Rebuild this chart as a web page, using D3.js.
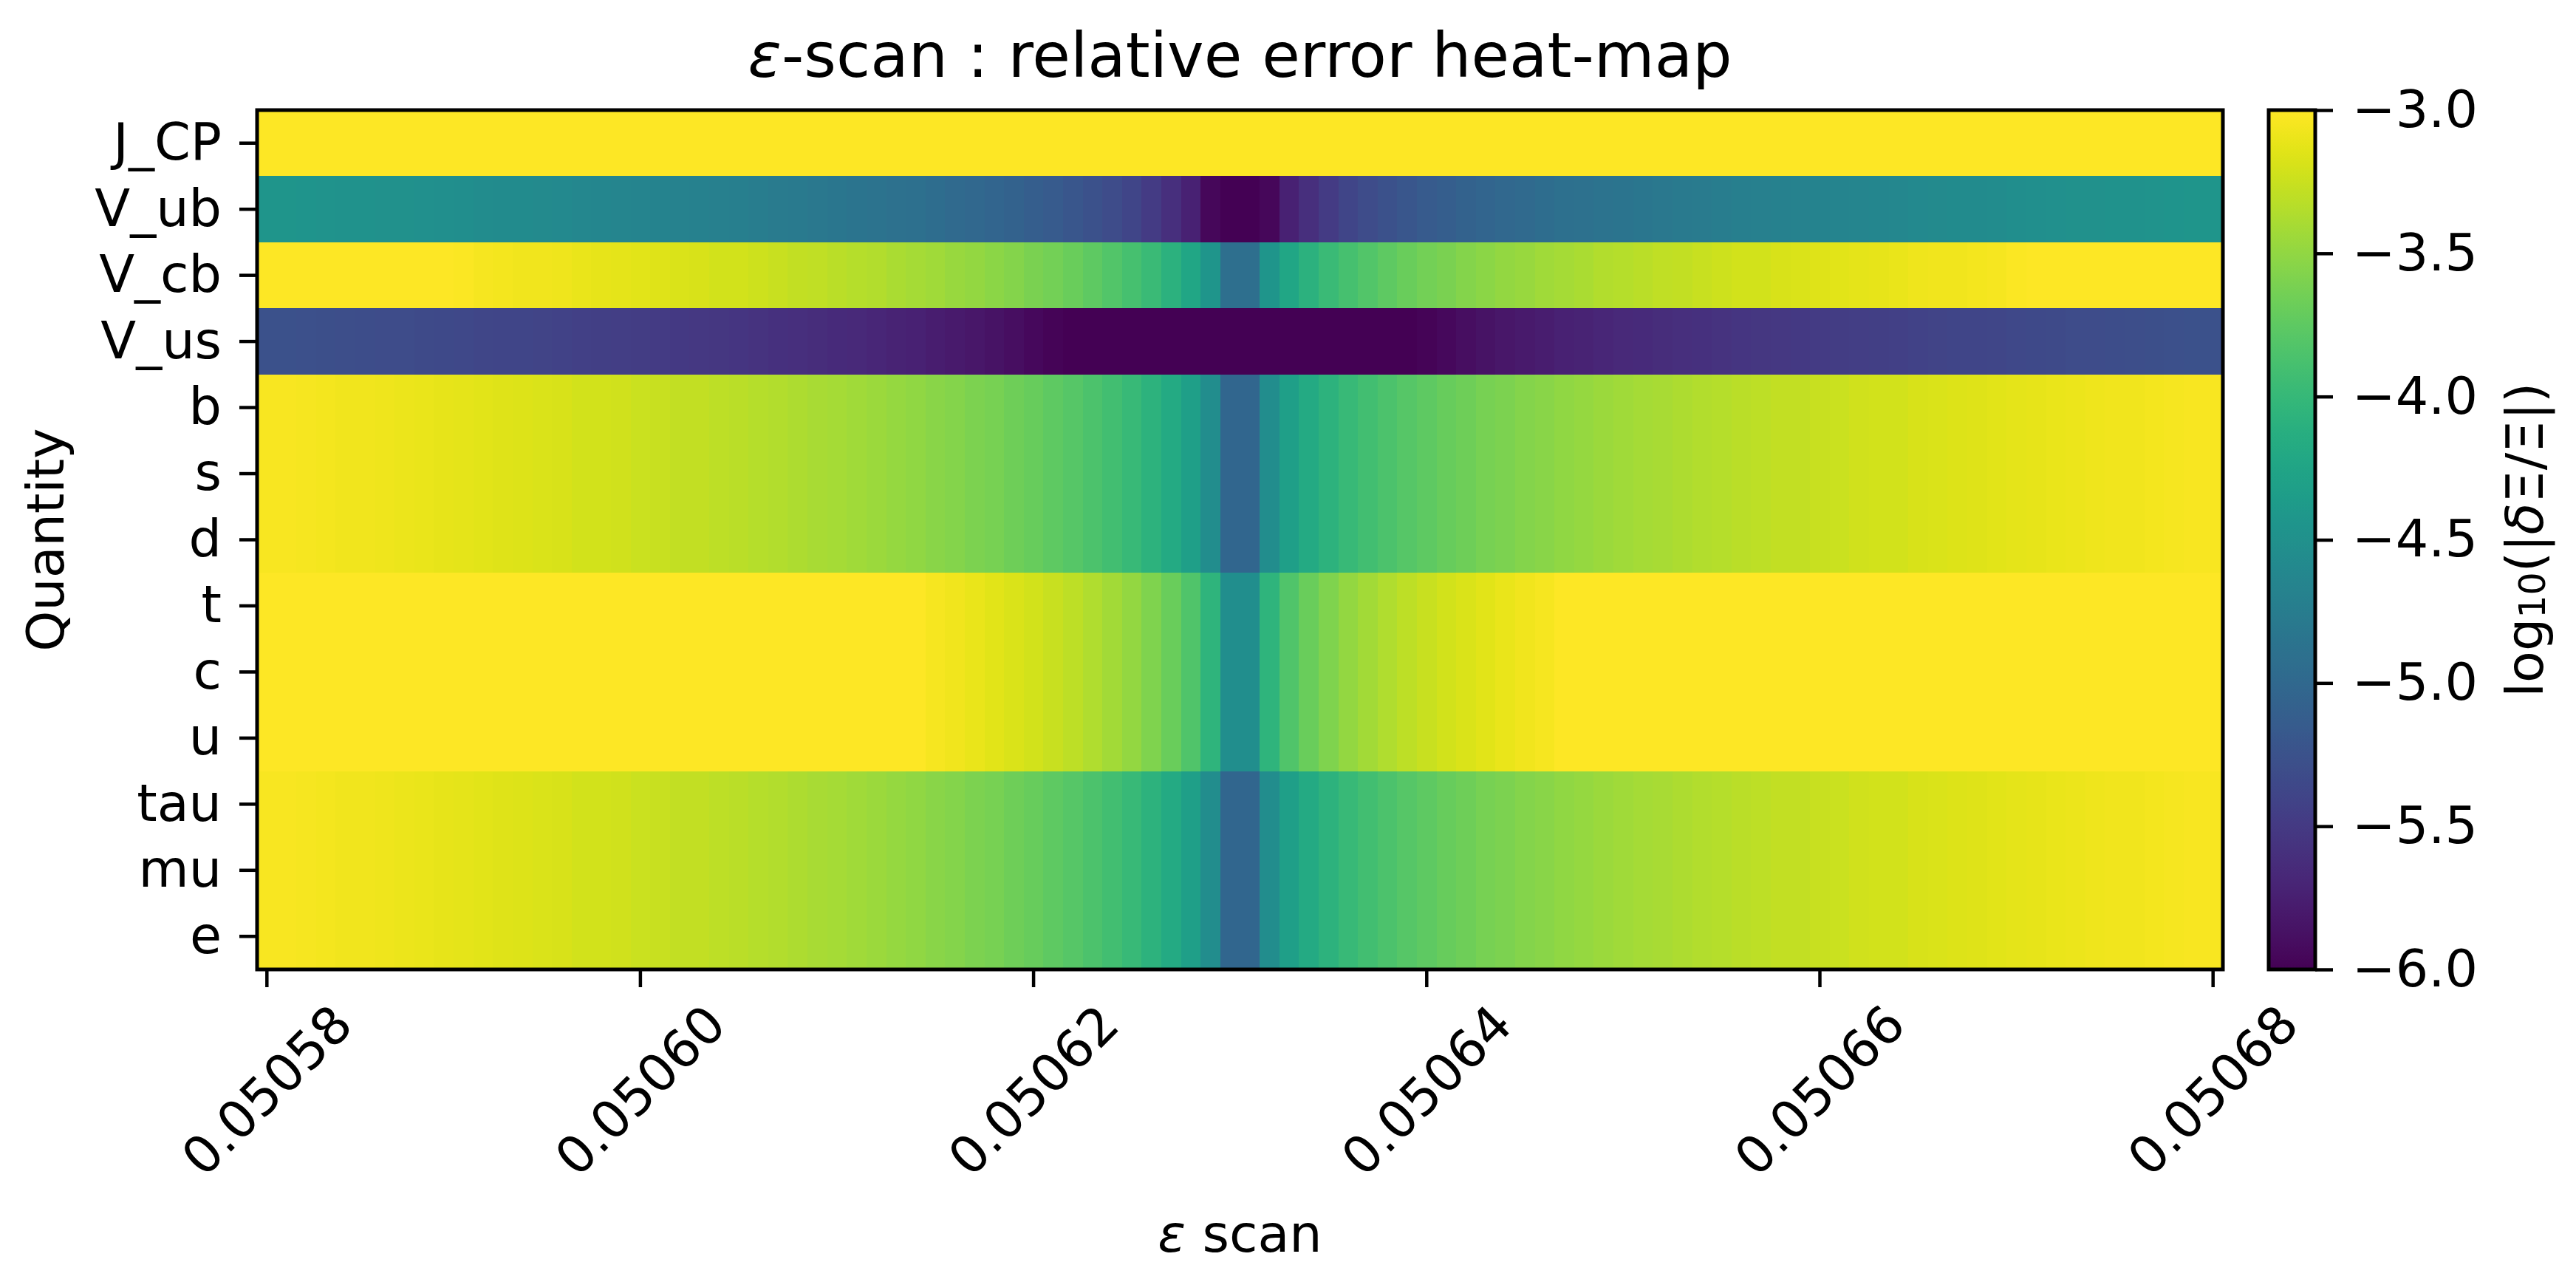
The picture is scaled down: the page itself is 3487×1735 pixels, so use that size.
<!DOCTYPE html>
<html>
<head>
<meta charset="utf-8">
<script src="https://cdn.jsdelivr.net/npm/d3@7"></script>
<style>
  body { margin: 0; background: #fff; }
  svg { display: block; }
  text { font-family: "DejaVu Sans", sans-serif; fill: #000; }
</style>
</head>
<body>
<svg width="3487" height="1735"></svg>
<script>
// quantities, top to bottom
var quantities = ["J_CP", "V_ub", "V_cb", "V_us", "b", "s", "d", "t", "c", "u", "tau", "mu", "e"];

// x tick positions (column index) and their labels
var tickIdx = [0, 19, 39, 59, 79, 99];
var tickLabels = ["0.05058", "0.05060", "0.05062", "0.05064", "0.05066", "0.05068"];
var cbTicks = [-3.0, -3.5, -4.0, -4.5, -5.0, -5.5, -6.0];

// log10 relative error per scan column (100 columns)
var jcpRow = [
  -3.00,-3.00,-3.00,-3.00,-3.00,-3.00,-3.00,-3.00,-3.00,-3.00,
  -3.00,-3.00,-3.00,-3.00,-3.00,-3.00,-3.00,-3.00,-3.00,-3.00,
  -3.00,-3.00,-3.00,-3.00,-3.00,-3.00,-3.00,-3.00,-3.00,-3.00,
  -3.00,-3.00,-3.00,-3.00,-3.00,-3.00,-3.00,-3.00,-3.00,-3.00,
  -3.00,-3.00,-3.00,-3.00,-3.00,-3.00,-3.00,-3.00,-3.00,-3.00,
  -3.00,-3.00,-3.00,-3.00,-3.00,-3.00,-3.00,-3.00,-3.00,-3.00,
  -3.00,-3.00,-3.00,-3.00,-3.00,-3.00,-3.00,-3.00,-3.00,-3.00,
  -3.00,-3.00,-3.00,-3.00,-3.00,-3.00,-3.00,-3.00,-3.00,-3.00,
  -3.00,-3.00,-3.00,-3.00,-3.00,-3.00,-3.00,-3.00,-3.00,-3.00,
  -3.00,-3.00,-3.00,-3.00,-3.00,-3.00,-3.00,-3.00,-3.00,-3.00];

var vubRow = [
  -4.44,-4.44,-4.45,-4.46,-4.47,-4.48,-4.49,-4.50,-4.51,-4.52,
  -4.53,-4.55,-4.56,-4.57,-4.58,-4.59,-4.61,-4.62,-4.63,-4.65,
  -4.66,-4.68,-4.69,-4.71,-4.72,-4.74,-4.76,-4.78,-4.80,-4.82,
  -4.84,-4.86,-4.89,-4.91,-4.94,-4.97,-5.00,-5.03,-5.07,-5.11,
  -5.15,-5.20,-5.26,-5.32,-5.39,-5.48,-5.59,-5.73,-5.95,-6.00,
  -6.00,-5.95,-5.73,-5.59,-5.48,-5.39,-5.32,-5.26,-5.20,-5.15,
  -5.11,-5.07,-5.03,-5.00,-4.97,-4.94,-4.91,-4.89,-4.86,-4.84,
  -4.82,-4.80,-4.78,-4.76,-4.74,-4.72,-4.71,-4.69,-4.68,-4.66,
  -4.65,-4.63,-4.62,-4.61,-4.59,-4.58,-4.57,-4.56,-4.55,-4.53,
  -4.52,-4.51,-4.50,-4.49,-4.48,-4.47,-4.46,-4.45,-4.44,-4.44];

var vcbRow = [
  -3.00,-3.00,-3.00,-3.00,-3.00,-3.00,-3.00,-3.00,-3.00,-3.01,
  -3.02,-3.04,-3.05,-3.06,-3.07,-3.08,-3.10,-3.11,-3.12,-3.14,
  -3.15,-3.17,-3.18,-3.20,-3.21,-3.23,-3.25,-3.27,-3.29,-3.31,
  -3.33,-3.35,-3.38,-3.40,-3.43,-3.46,-3.49,-3.52,-3.56,-3.60,
  -3.64,-3.69,-3.75,-3.81,-3.88,-3.97,-4.08,-4.22,-4.44,-4.92,
  -4.92,-4.44,-4.22,-4.08,-3.97,-3.88,-3.81,-3.75,-3.69,-3.64,
  -3.60,-3.56,-3.52,-3.49,-3.46,-3.43,-3.40,-3.38,-3.35,-3.33,
  -3.31,-3.29,-3.27,-3.25,-3.23,-3.21,-3.20,-3.18,-3.17,-3.15,
  -3.14,-3.12,-3.11,-3.10,-3.08,-3.07,-3.06,-3.05,-3.04,-3.02,
  -3.01,-3.00,-3.00,-3.00,-3.00,-3.00,-3.00,-3.00,-3.00,-3.00];

var vusRow = [
  -5.26,-5.26,-5.27,-5.28,-5.29,-5.30,-5.31,-5.32,-5.33,-5.34,
  -5.35,-5.37,-5.38,-5.39,-5.40,-5.41,-5.43,-5.44,-5.45,-5.47,
  -5.48,-5.50,-5.51,-5.53,-5.54,-5.56,-5.58,-5.60,-5.62,-5.64,
  -5.66,-5.68,-5.71,-5.73,-5.76,-5.79,-5.82,-5.85,-5.89,-5.93,
  -5.97,-6.00,-6.00,-6.00,-6.00,-6.00,-6.00,-6.00,-6.00,-6.00,
  -6.00,-6.00,-6.00,-6.00,-6.00,-6.00,-6.00,-6.00,-6.00,-5.97,
  -5.93,-5.89,-5.85,-5.82,-5.79,-5.76,-5.73,-5.71,-5.68,-5.66,
  -5.64,-5.62,-5.60,-5.58,-5.56,-5.54,-5.53,-5.51,-5.50,-5.48,
  -5.47,-5.45,-5.44,-5.43,-5.41,-5.40,-5.39,-5.38,-5.37,-5.35,
  -5.34,-5.33,-5.32,-5.31,-5.30,-5.29,-5.28,-5.27,-5.26,-5.26];

// b, s, d and tau, mu, e share the same pattern
var downRow = [
  -3.03,-3.03,-3.04,-3.05,-3.06,-3.07,-3.08,-3.09,-3.10,-3.11,
  -3.12,-3.14,-3.15,-3.16,-3.17,-3.18,-3.20,-3.21,-3.22,-3.24,
  -3.25,-3.27,-3.28,-3.30,-3.31,-3.33,-3.35,-3.37,-3.39,-3.41,
  -3.43,-3.45,-3.48,-3.50,-3.53,-3.56,-3.59,-3.62,-3.66,-3.70,
  -3.74,-3.79,-3.85,-3.91,-3.98,-4.07,-4.18,-4.32,-4.54,-5.02,
  -5.02,-4.54,-4.32,-4.18,-4.07,-3.98,-3.91,-3.85,-3.79,-3.74,
  -3.70,-3.66,-3.62,-3.59,-3.56,-3.53,-3.50,-3.48,-3.45,-3.43,
  -3.41,-3.39,-3.37,-3.35,-3.33,-3.31,-3.30,-3.28,-3.27,-3.25,
  -3.24,-3.22,-3.21,-3.20,-3.18,-3.17,-3.16,-3.15,-3.14,-3.12,
  -3.11,-3.10,-3.09,-3.08,-3.07,-3.06,-3.05,-3.04,-3.03,-3.03];

// t, c, u
var upRow = [
  -3.00,-3.00,-3.00,-3.00,-3.00,-3.00,-3.00,-3.00,-3.00,-3.00,
  -3.00,-3.00,-3.00,-3.00,-3.00,-3.00,-3.00,-3.00,-3.00,-3.00,
  -3.00,-3.00,-3.00,-3.00,-3.00,-3.00,-3.00,-3.00,-3.00,-3.00,
  -3.00,-3.00,-3.00,-3.01,-3.04,-3.07,-3.10,-3.13,-3.17,-3.21,
  -3.25,-3.30,-3.36,-3.42,-3.49,-3.58,-3.69,-3.83,-4.05,-4.53,
  -4.53,-4.05,-3.83,-3.69,-3.58,-3.49,-3.42,-3.36,-3.30,-3.25,
  -3.21,-3.17,-3.13,-3.10,-3.07,-3.04,-3.01,-3.00,-3.00,-3.00,
  -3.00,-3.00,-3.00,-3.00,-3.00,-3.00,-3.00,-3.00,-3.00,-3.00,
  -3.00,-3.00,-3.00,-3.00,-3.00,-3.00,-3.00,-3.00,-3.00,-3.00,
  -3.00,-3.00,-3.00,-3.00,-3.00,-3.00,-3.00,-3.00,-3.00,-3.00];

var rowOf = {
  "J_CP": jcpRow, "V_ub": vubRow, "V_cb": vcbRow, "V_us": vusRow,
  "b": downRow, "s": downRow, "d": downRow,
  "t": upRow, "c": upRow, "u": upRow,
  "tau": downRow, "mu": downRow, "e": downRow
};

//sizes of the main heat-map and the colour bar
var svg = d3.select("svg"),
    margin = {top: 149, right: 478, bottom: 423, left: 348},
    width = +svg.attr("width") - margin.left - margin.right,
    height = +svg.attr("height") - margin.top - margin.bottom,
    cbLeft = 3071, cbWidth = 63;

var fontSize = 70;

var x = d3.scaleBand().domain(d3.range(jcpRow.length)).range([0, width]),
    y = d3.scaleBand().domain(quantities).range([0, height]),
    color = d3.scaleSequential(d3.interpolateViridis).domain([-6, -3]).clamp(true);

var focus = svg.append("g")
    .attr("transform", "translate(" + margin.left + "," + margin.top + ")");

// heat-map cells
focus.selectAll("g.row")
  .data(quantities)
  .join("g")
    .attr("class", "row")
    .attr("transform", function(q) { return "translate(0," + y(q) + ")"; })
  .selectAll("rect")
  .data(function(q) { return rowOf[q]; })
  .join("rect")
    .attr("x", function(v, i) { return x(i); })
    .attr("width", x.bandwidth() + 0.7)
    .attr("height", y.bandwidth() + 0.7)
    .attr("fill", function(v) { return color(v); })
    .attr("shape-rendering", "crispEdges");

// x axis, labels turned 45 degrees
var xAxis = d3.axisBottom(x)
    .tickValues(tickIdx)
    .tickFormat(function(d, i) { return tickLabels[i]; })
    .tickSizeOuter(0)
    .tickSize(24);

var gx = focus.append("g")
    .attr("transform", "translate(0," + height + ")")
    .call(xAxis);
gx.select(".domain").remove();
gx.selectAll("line").attr("stroke-width", 4.5);
gx.selectAll("text")
    .attr("y", null).attr("dy", null).attr("x", null)
    .attr("text-anchor", "middle")
    .attr("dominant-baseline", "central")
    .attr("transform", "translate(0,164) rotate(-45)")
    .style("font-size", fontSize + "px");

// y axis
var gy = focus.append("g").call(d3.axisLeft(y).tickSize(24).tickSizeOuter(0).tickPadding(24));
gy.select(".domain").remove();
gy.selectAll("line").attr("stroke-width", 4.5);
gy.selectAll("text").style("font-size", fontSize + "px");

// frame round the heat-map
focus.append("rect")
    .attr("width", width)
    .attr("height", height)
    .attr("fill", "none")
    .attr("stroke", "#000")
    .attr("stroke-width", 5);

// title
var title = svg.append("text")
    .attr("x", margin.left + width / 2)
    .attr("y", 104)
    .attr("text-anchor", "middle")
    .style("font-size", "84px");
title.append("tspan").style("font-style", "italic").text("ε");
title.append("tspan").text("-scan : relative error heat-map");

// axis labels
var xlab = svg.append("text")
    .attr("x", margin.left + width / 2)
    .attr("y", 1694)
    .attr("text-anchor", "middle")
    .style("font-size", fontSize + "px");
xlab.append("tspan").style("font-style", "italic").text("ε");
xlab.append("tspan").text(" scan");

svg.append("text")
    .attr("transform", "translate(62," + (margin.top + height / 2) + ") rotate(-90)")
    .attr("text-anchor", "middle")
    .attr("dominant-baseline", "central")
    .style("font-size", fontSize + "px")
    .text("Quantity");

// colour bar
var defs = svg.append("defs");
var grad = defs.append("linearGradient")
    .attr("id", "cbgrad")
    .attr("x1", 0).attr("y1", 1).attr("x2", 0).attr("y2", 0);
grad.selectAll("stop")
  .data(d3.range(0, 1.0001, 1 / 64))
  .join("stop")
    .attr("offset", function(t) { return t; })
    .attr("stop-color", function(t) { return d3.interpolateViridis(t); });

var cb = svg.append("g")
    .attr("transform", "translate(" + cbLeft + "," + margin.top + ")");
cb.append("rect")
    .attr("width", cbWidth)
    .attr("height", height)
    .attr("fill", "url(#cbgrad)");

var cbScale = d3.scaleLinear().domain([-3, -6]).range([0, height]);
var gcb = cb.append("g")
    .attr("transform", "translate(" + cbWidth + ",0)")
    .call(d3.axisRight(cbScale).tickValues(cbTicks).tickFormat(d3.format(".1f")).tickSize(24).tickSizeOuter(0).tickPadding(26));
gcb.select(".domain").remove();
gcb.selectAll("line").attr("stroke-width", 4.5);
gcb.selectAll("text").style("font-size", fontSize + "px");

cb.append("rect")
    .attr("width", cbWidth)
    .attr("height", height)
    .attr("fill", "none")
    .attr("stroke", "#000")
    .attr("stroke-width", 5);

var cbl = svg.append("text")
    .attr("transform", "translate(3418," + (margin.top + height / 2) + ") rotate(-90)")
    .attr("text-anchor", "middle")
    .attr("dominant-baseline", "central")
    .style("font-size", fontSize + "px");
cbl.append("tspan").text("log");
cbl.append("tspan").attr("baseline-shift", "-22%").style("font-size", "49px").text("10");
cbl.append("tspan").text("(|");
cbl.append("tspan").style("font-style", "italic").text("δ");
cbl.append("tspan").text("Ξ/Ξ|)");
</script>
</body>
</html>
